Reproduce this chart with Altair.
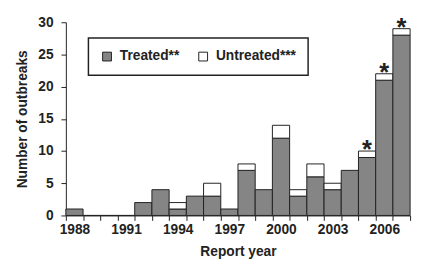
import altair as alt
import pandas as pd

years = ["1988", "1989", "1990", "1991", "1992", "1993", "1994", "1995", "1996", "1997",
         "1998", "1999", "2000", "2001", "2002", "2003", "2004", "2005", "2006", "2007"]
treated = [1, 0, 0, 0, 2, 4, 1, 3, 3, 1, 7, 4, 12, 3, 6, 4, 7, 9, 21, 28]
untreated = [0, 0, 0, 0, 0, 0, 1, 0, 2, 0, 1, 0, 2, 1, 2, 1, 0, 1, 1, 1]
starred = ["2005", "2006", "2007"]
label_years = ["1988", "1991", "1994", "1997", "2000", "2003", "2006"]
y_ticks = [0, 5, 10, 15, 20, 25, 30]
series = ["Treated**", "Untreated***"]

rows = []
for y, t, u in zip(years, treated, untreated):
    rows.append({"year": y, "type": series[0], "n": t, "ord": 0})
    if u > 0:
        rows.append({"year": y, "type": series[1], "n": u, "ord": 1})
df = pd.DataFrame(rows)

star_df = pd.DataFrame({
    "year": starred,
    "total": [t + u for y, t, u in zip(years, treated, untreated) if y in starred],
})

FONT = "Liberation Sans"
INK = "#222222"

label_expr = "indexof(" + str(label_years) + ", datum.label) >= 0 ? datum.label : ''"

xscale = alt.Scale(domain=years, paddingInner=0, paddingOuter=0)
yscale = alt.Scale(domain=[0, 30], nice=False)
xaxis = alt.Axis(labelAngle=0, tickBand="extent", labelExpr=label_expr,
                 labelOverlap=False, title="Report year",
                 labelPadding=2, titlePadding=9)
yaxis = alt.Axis(values=y_ticks, grid=False, labelOverlap=False,
                 title="Number of outbreaks", labelPadding=8, titlePadding=9)

bars = alt.Chart(df).mark_bar(stroke=INK, strokeWidth=1).encode(
    x=alt.X("year:O", scale=xscale, axis=xaxis),
    y=alt.Y("sum(n):Q", stack="zero", scale=yscale, axis=yaxis),
    color=alt.Color("type:N",
                    scale=alt.Scale(domain=series, range=["#858585", "#ffffff"]),
                    legend=alt.Legend(title=None, orient="none", legendX=23, legendY=16,
                                      direction="horizontal", symbolType="square",
                                      symbolSize=81, symbolStrokeColor=INK,
                                      symbolStrokeWidth=1, strokeColor=INK,
                                      padding=12, columnPadding=17,
                                      labelFontSize=14, labelFont=FONT,
                                      labelFontWeight="bold", labelColor=INK,
                                      symbolOffset=0, labelOffset=6)),
    order=alt.Order("ord:Q", sort="ascending"),
)

stars = alt.Chart(star_df).mark_text(text="*", fontSize=26, font=FONT, color=INK,
                                      fontWeight="bold",
                                      baseline="middle", dy=-1).encode(
    x=alt.X("year:O", scale=xscale, axis=xaxis),
    y=alt.Y("total:Q", scale=yscale, axis=yaxis),
)

chart = alt.layer(bars, stars).properties(
    width=351, height=197,
    padding={"left": 59, "top": 12, "right": 5, "bottom": 48},
    autosize=alt.AutoSizeParams(type="none"),
    background="white",
).configure_view(stroke=None).configure_axis(
    domainColor=INK, tickColor=INK, tickSize=5,
    labelFont=FONT, labelFontSize=14, labelFontWeight="bold", labelColor=INK,
    titleFont=FONT, titleFontSize=14, titleFontWeight="bold", titleColor=INK,
).configure_legend(strokeWidth=1.5)

chart.save("out.html", embed_options={"renderer": "svg", "actions": False})
